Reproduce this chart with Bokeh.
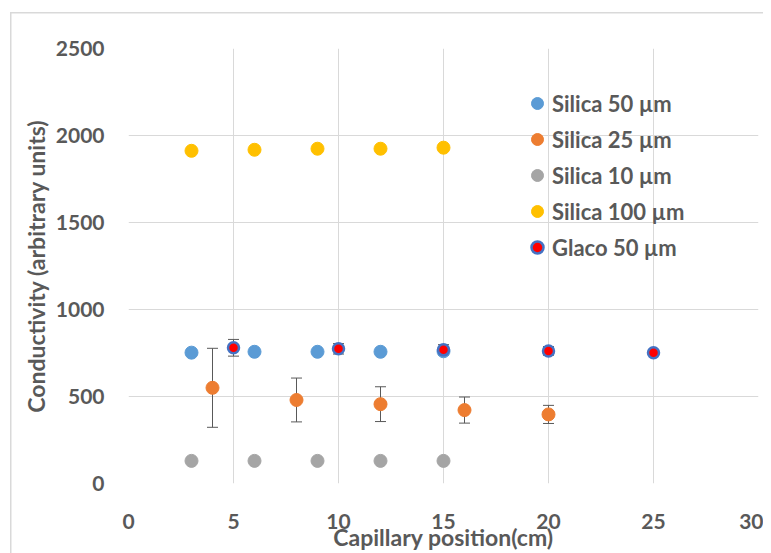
from bokeh.plotting import figure
from bokeh.models import ColumnDataSource, Whisker, TeeHead, Legend, LegendItem, FixedTicker
from bokeh.embed import file_html
from bokeh.resources import INLINE

# Data
x_s50 = [3, 6, 9, 12, 15]
y_s50 = [752, 757, 757, 757, 760]

x_s25 = [4, 8, 12, 16, 20]
y_s25 = [550, 480, 456, 422, 397]
e_s25 = [227, 126, 100, 75, 52]

x_s10 = [3, 6, 9, 12, 15]
y_s10 = [130, 130, 130, 130, 130]

x_s100 = [3, 6, 9, 12, 15]
y_s100 = [1912, 1918, 1924, 1924, 1930]

x_g = [5, 10, 15, 20, 25]
y_g = [780, 774, 768, 762, 752]
e_g = [48, 30, 30, 25, 12]

x_ticks = [0, 5, 10, 15, 20, 25, 30]
y_ticks = [0, 500, 1000, 1500, 2000, 2500]

FONT = "Lato"
TXT = "#595959"

p = figure(width=763, height=553, x_range=(0, 30), y_range=(0, 2500),
           output_backend="svg", toolbar_location=None,
           min_border_left=128, min_border_right=5, min_border_top=48, min_border_bottom=69)
p.outline_line_color = None
p.background_fill_color = "white"
p.border_fill_alpha = 0
p.styles = {"box-shadow": "inset 10px 12px 0 0 white, inset 11.5px 13.5px 0 0 #D9D9D9",
            "background-color": "white"}

for ax in (p.xaxis[0], p.yaxis[0]):
    ax.axis_line_color = None
    ax.major_tick_line_color = None
    ax.minor_tick_line_color = None
    ax.major_label_text_font = FONT
    ax.major_label_text_font_style = "bold"
    ax.major_label_text_font_size = "21px"
    ax.major_label_text_color = TXT
    ax.axis_label_text_font = FONT
    ax.axis_label_text_font_style = "bold"
    ax.axis_label_text_font_size = "23px"
    ax.axis_label_text_color = TXT

p.xaxis.ticker = FixedTicker(ticks=x_ticks)
p.yaxis.ticker = FixedTicker(ticks=y_ticks)
p.xaxis.axis_label = "Capillary position(cm)"
p.yaxis.axis_label = "Conductivity (arbitrary units)"
p.xaxis.major_label_standoff = 24
p.xaxis.axis_label_standoff = -9
p.yaxis.major_label_standoff = 18
p.yaxis.axis_label_standoff = 3

p.xgrid.grid_line_color = "#D9D9D9"
p.ygrid.grid_line_color = "#D9D9D9"

# error bars
src25 = ColumnDataSource(dict(x=x_s25, lo=[y - e for y, e in zip(y_s25, e_s25)],
                              hi=[y + e for y, e in zip(y_s25, e_s25)]))
srcg = ColumnDataSource(dict(x=x_g, lo=[y - e for y, e in zip(y_g, e_g)],
                             hi=[y + e for y, e in zip(y_g, e_g)]))
for s in (src25, srcg):
    w = Whisker(source=s, base="x", lower="lo", upper="hi", line_color="#595959", line_width=1,
                upper_head=TeeHead(size=11, line_color="#595959", line_width=1),
                lower_head=TeeHead(size=11, line_color="#595959", line_width=1))
    p.add_layout(w)

r1 = p.scatter(x_s50, y_s50, size=13, fill_color="#5B9BD5", line_color="#5B9BD5")
r2 = p.scatter(x_s25, y_s25, size=13, fill_color="#ED7D31", line_color="#ED7D31")
r3 = p.scatter(x_s10, y_s10, size=13, fill_color="#A5A5A5", line_color="#A5A5A5")
r4 = p.scatter(x_s100, y_s100, size=13, fill_color="#FFC000", line_color="#FFC000")
r5 = p.scatter(x_g, y_g, size=11, fill_color="#FF0000", line_color="#4472C4", line_width=2.5)

legend = Legend(items=[
    LegendItem(label="Silica 50 µm", renderers=[r1]),
    LegendItem(label="Silica 25 µm", renderers=[r2]),
    LegendItem(label="Silica 10 µm", renderers=[r3]),
    LegendItem(label="Silica 100 µm", renderers=[r4]),
    LegendItem(label="Glaco 50 µm", renderers=[r5]),
], location=(394, 221))
legend.border_line_color = None
legend.background_fill_alpha = 0
legend.label_text_font = FONT
legend.label_text_font_style = "bold"
legend.label_text_font_size = "22px"
legend.label_text_color = TXT
legend.glyph_width = 30
legend.glyph_height = 30
legend.label_standoff = 0
legend.spacing = 6
legend.padding = 0
legend.margin = 0
p.add_layout(legend)

open("out.html", "w").write(file_html(p, INLINE))
